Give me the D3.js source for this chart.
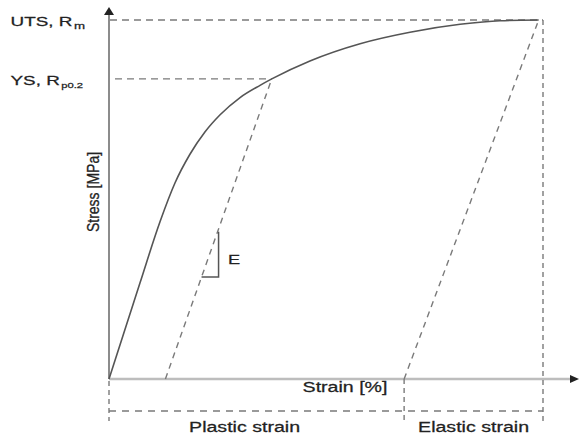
<!DOCTYPE html>
<html>
<head>
<meta charset="utf-8">
<script src="https://cdn.jsdelivr.net/npm/d3@7"></script>
<style>
  body { margin: 0; background: #fff; }
  svg { display: block; font-family: "Liberation Sans", Arial, sans-serif; }
</style>
</head>
<body>
<svg id="chart" width="579" height="436"></svg>
<script>
// stress-strain curve (strain in %, stress in MPa)
const strain = [0, 1.43, 2.35, 3.04, 3.73, 4.42, 5.12, 6.04, 6.96, 7.5, 9.26, 11.57, 13.87, 16.18, 18.02, 19.8];
const stress = [0, 134, 219, 273, 313, 344, 368, 392, 409, 418, 443, 467, 483, 494, 499, 500];

// marked points
const ysPoint = [7.5, 418];
const utsPoint = [19.8, 500];
const plasticStrain = 2.6;   // offset line meets the strain axis
const elasticStart = 13.6;   // unloading line from UTS meets the axis
const totalStrain = 20;
const eTriangle = [142, 205]; // stress range of the little slope triangle

const levelLabels = [
  { name: "UTS, R", sub: "m", value: utsPoint[1] },
  { name: "YS, R", sub: "p0.2", value: ysPoint[1] }
];
const spanLabels = ["Plastic strain", "Elastic strain"];

const svg = d3.select("#chart");
const x = d3.scaleLinear().domain([0, 20]).range([109, 543]);
const y = d3.scaleLinear().domain([0, 500]).range([379, 20]);

const SX = 1.4; // text in the picture is stretched sideways
const dashCol = "#7a7a7a";
const textCol = "#222";

function dashed(x1, y1, x2, y2, dash) {
  svg.append("line")
    .attr("x1", x1).attr("y1", y1).attr("x2", x2).attr("y2", y2)
    .attr("stroke", dashCol).attr("stroke-width", 1.4)
    .attr("stroke-dasharray", dash || "7,5");
}

function label(px, py, txt, size, anchor) {
  return svg.append("text")
    .attr("transform", `translate(${px},${py}) scale(${SX},1)`)
    .attr("text-anchor", anchor || "start")
    .attr("font-size", size)
    .attr("fill", textCol)
    .attr("stroke", textCol).attr("stroke-width", 0.25)
    .text(txt);
}

// x axis (light, thick) + arrow
svg.append("line")
  .attr("x1", x(0)).attr("y1", y(0)).attr("x2", 572).attr("y2", y(0))
  .attr("stroke", "#bdbdbd").attr("stroke-width", 2.5);
svg.append("path")
  .attr("d", `M570,${y(0) - 4}L579,${y(0)}L570,${y(0) + 4}Z`)
  .attr("fill", "#222");

// y axis + arrow
svg.append("line")
  .attr("x1", x(0)).attr("y1", y(0)).attr("x2", x(0)).attr("y2", 13)
  .attr("stroke", "#666").attr("stroke-width", 1.5);
svg.append("path")
  .attr("d", `M${x(0) - 5},15L${x(0)},7L${x(0) + 5},15Z`)
  .attr("fill", "#222");

// guide lines at UTS and YS
dashed(x(0) + 1, y(utsPoint[1]), x(totalStrain), y(utsPoint[1]));
dashed(x(0) + 6, y(ysPoint[1]), x(ysPoint[0]), y(ysPoint[1]));

// right vertical line at total strain
dashed(x(totalStrain), y(utsPoint[1]), x(totalStrain), 421, "5,4");

// offset lines (parallel to elastic part)
dashed(x(plasticStrain), y(0), x(ysPoint[0]), y(ysPoint[1]), "6,5");
dashed(x(elasticStart), y(0), x(utsPoint[0]), y(utsPoint[1]), "6,5");

// strain brackets below axis
dashed(x(0), 411, x(totalStrain), 411, "7,6");
dashed(x(0), y(0) + 2, x(0), 421, "5,4");
dashed(x(elasticStart), y(0), x(elasticStart), 421, "5,4");

// the curve
const pts = strain.map((s, i) => [s, stress[i]]);
svg.append("path")
  .datum(pts)
  .attr("d", d3.line().x(d => x(d[0])).y(d => y(d[1])).curve(d3.curveMonotoneX))
  .attr("fill", "none")
  .attr("stroke", "#555")
  .attr("stroke-width", 1.6);

// slope triangle E on the offset line
const onOffset = s => plasticStrain + (s / ysPoint[1]) * (ysPoint[0] - plasticStrain);
svg.append("path")
  .attr("d", d3.line()([
    [x(onOffset(eTriangle[1])) + 1, y(eTriangle[1])],
    [x(onOffset(eTriangle[1])) + 1, y(eTriangle[0])],
    [x(onOffset(eTriangle[0])), y(eTriangle[0])]
  ]))
  .attr("fill", "none").attr("stroke", "#555").attr("stroke-width", 1.5);
label(228, 264, "E", 13);

// level labels on the left, with subscripts placed after the main text
levelLabels.forEach(d => {
  const by = y(d.value) + 6;
  const t = label(10.5, by, d.name, 13.5);
  const w = t.node().getComputedTextLength() * SX;
  label(10.5 + w + 1.5, by + 3, d.sub, d.sub.length > 1 ? 8 : 9.5);
});

// axis titles
label(345, 392, "Strain [%]", 14, "middle");
svg.append("text")
  .attr("transform", `translate(99,192) scale(1.2,1) rotate(-90)`)
  .attr("text-anchor", "middle")
  .attr("font-size", 14)
  .attr("fill", textCol)
  .attr("stroke", textCol).attr("stroke-width", 0.25)
  .text("Stress [MPa]");

// span labels
label((x(0) + x(elasticStart)) / 2 - 12, 432, spanLabels[0], 14, "middle");
label((x(elasticStart) + x(totalStrain)) / 2, 432, spanLabels[1], 14, "middle");
</script>
</body>
</html>
